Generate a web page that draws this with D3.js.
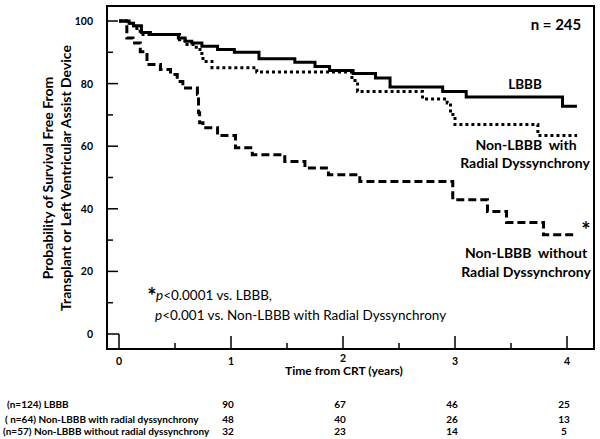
<!DOCTYPE html>
<html><head><meta charset="utf-8">
<script src="https://cdn.jsdelivr.net/npm/d3@7/dist/d3.min.js"></script>
<style>
body{margin:0;background:#fff;}
svg{display:block;font-family:Lato,"Open Sans",sans-serif;}
</style></head>
<body>
<svg id="chart" width="600" height="439"></svg>
<script>
// ---- data ----
const lbbbT = [0,0.09,0.13,0.2,0.28,0.53,0.59,0.65,0.74,0.88,1.03,1.25,1.57,1.75,1.88,2.09,2.29,2.42,2.89,3.1,3.96,4.09];
const lbbbS = [100,99.3,98.5,96.3,95.7,94.6,93.5,93,91.9,90.9,90,87.9,86.8,85.5,84.2,83.2,81.8,78.9,77.5,75.7,72.8,72.8];
const withT = [0,0.1,0.16,0.2,0.54,0.59,0.69,0.74,0.75,0.83,1.23,2.08,2.13,2.71,2.93,2.96,3.0,3.74,4.09];
const withS = [100,98.5,96.7,95.7,94,92.5,90.9,88.7,87.1,85.1,83.7,81,77.5,75.1,73.8,70.1,66.9,63.4,63.4];
const withoutT = [0,0.07,0.125,0.19,0.25,0.37,0.46,0.52,0.57,0.70,0.71,0.72,0.75,0.88,1.04,1.19,1.48,1.66,1.87,2.15,2.98,3.29,3.46,3.79,4.09];
const withoutS = [100,94.6,93,90.2,86.1,84.5,82.9,80.7,78.6,76.5,70.7,67.5,65.9,63.4,59.5,57.3,55.1,53,50.9,48.7,42.9,39.1,35.6,31.7,31.7];
const yTicks = [0,20,40,60,80,100];
const xTicks = [0,1,2,3,4];
const riskLabels = ["(n=124) LBBB","( n=64) Non-LBBB with radial dyssynchrony","(n=57) Non-LBBB without radial dyssynchrony"];
const riskLBBB = [90,67,46,25];
const riskWith = [48,40,26,13];
const riskWithout = [32,23,14,5];

const svg = d3.select("#chart");
const x = d3.scaleLinear().domain([0,4]).range([119,567]);
const y = d3.scaleLinear().domain([0,100]).range([334,21]);

// frame
svg.append("rect").attr("x",107).attr("y",6).attr("width",487).attr("height",343)
  .attr("fill","none").attr("stroke","#000").attr("stroke-width",2);

// y axis ticks (inward)
svg.selectAll(".yt").data(d3.range(0,101,10)).join("line").attr("class","yt")
  .attr("x1",107).attr("x2",d=>107+(d%20===0?(d===0?12:11):6))
  .attr("y1",d=>y(d)).attr("y2",d=>y(d)).attr("stroke","#000").attr("stroke-width",1.5);
svg.selectAll(".ylab").data(yTicks).join("text").attr("class","ylab")
  .attr("x",93).attr("y",d=>y(d)+4).attr("text-anchor","end")
  .attr("font-size",10.5).attr("font-weight","bold").text(d=>d);

// x axis ticks (inward)
svg.selectAll(".xt").data(d3.range(0,4.01,0.5)).join("line").attr("class","xt")
  .attr("x1",d=>x(d)).attr("x2",d=>x(d))
  .attr("y1",349).attr("y2",d=>Number.isInteger(d)?(d===0?334:336):343)
  .attr("stroke","#000").attr("stroke-width",1.5);
svg.selectAll(".xlab").data(xTicks).join("text").attr("class","xlab")
  .attr("x",d=>x(d)).attr("y",d=>d===2?362:365).attr("text-anchor","middle")
  .attr("font-size",10.5).attr("font-weight","bold").text(d=>d);
svg.append("text").attr("x",344).attr("y",375).attr("text-anchor","middle")
  .attr("font-size",12).attr("font-weight","bold").text("Time from CRT (years)");

// y title
const yt = svg.append("text").attr("transform","translate(0,178) rotate(-90)")
  .attr("text-anchor","middle").attr("font-size",14).attr("font-weight","bold");
yt.append("tspan").attr("x",0).attr("y",53).text("Probability of Survival Free From");
yt.append("tspan").attr("x",0).attr("y",71).text("Transplant or Left Ventricular Assist Device");

// curves
const line = d3.line().x(d=>x(d[0])).y(d=>y(d[1])).curve(d3.curveStepAfter);
function draw(T,S,dash){
  svg.append("path").datum(T.map((t,i)=>[t,S[i]])).attr("d",line)
    .attr("fill","none").attr("stroke","#000").attr("stroke-width",3)
    .attr("stroke-dasharray",dash);
}
draw(lbbbT,lbbbS,null);
draw(withT,withS,"3,3");
draw(withoutT,withoutS,"8,4");

// labels
const lab = (tx,ty,s,size,anchor,w)=>svg.append("text").attr("x",tx).attr("y",ty)
  .attr("text-anchor",anchor||"middle").attr("font-size",size||13).attr("font-weight",w||"bold").text(s);
lab(556,30,"n = 245",15);
lab(525,89,"LBBB",13.5);
lab(526,150,"Non-LBBB  with",14).attr("xml:space","preserve");
lab(525,168,"Radial Dyssynchrony",14);
lab(526,258,"Non-LBBB  without",14).attr("xml:space","preserve");
lab(526,277,"Radial Dyssynchrony",14);
lab(586,238,"*",22);

// p annotation
lab(152,304,"*",22,"middle");
const p1 = svg.append("text").attr("x",156).attr("y",300).attr("font-size",13.5);
p1.append("tspan").attr("font-style","italic").text("p");
p1.append("tspan").text("<0.0001 vs. LBBB,");
const p2 = svg.append("text").attr("x",155).attr("y",320).attr("font-size",13.5);
p2.append("tspan").attr("font-style","italic").text("p");
p2.append("tspan").text("<0.001 vs. Non-LBBB with Radial Dyssynchrony");

// risk table
const rowY = [408,423,435];
const labX = [7,5,3];
riskLabels.forEach((s,i)=>svg.append("text").attr("x",labX[i]).attr("y",rowY[i])
  .attr("font-size",10).attr("font-weight","bold").text(s));
[riskLBBB,riskWith,riskWithout].forEach((arr,i)=>{
  svg.selectAll(".r"+i).data(arr).join("text").attr("class","r"+i)
    .attr("x",(d,j)=>x(j+1)-3).attr("y",rowY[i])
    .attr("text-anchor","middle").attr("font-size",10).attr("font-weight","bold").text(d=>d);
});
</script>
</body></html>
